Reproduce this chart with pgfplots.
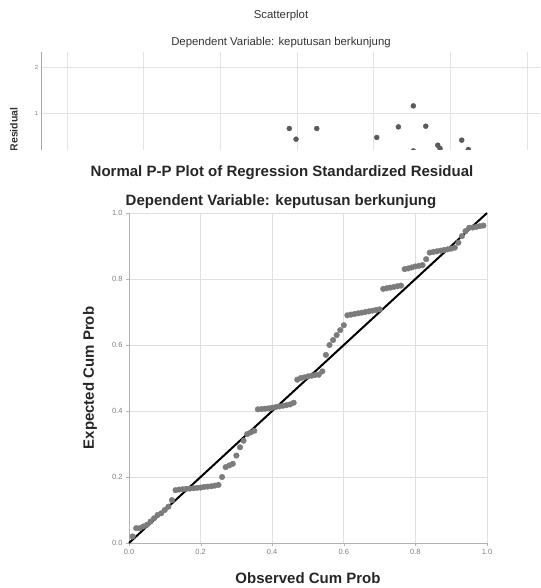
\documentclass[border=0pt]{standalone}
\usepackage{fontspec}
\setmainfont{Liberation Sans}
\usepackage{pgfplots}
\pgfplotsset{compat=1.18}
\definecolor{ptgray}{HTML}{7C7C7C}
\definecolor{dotgray}{HTML}{5A5A5A}
\begin{document}
\begin{tikzpicture}[x=1pt,y=1pt]
\useasboundingbox (0,0) rectangle (540,588);
% ---- cropped scatterplot on top ----
\begin{scope}
\clip (0,438) rectangle (540,588);
\begin{axis}[
  at={(41.7pt,405.8pt)}, anchor=south west, scale only axis,
  width=523.9pt, height=130.2pt,
  xmin=-3.33, xmax=3.5, ymin=-0.5, ymax=2.33,
  axis lines*=left,
  axis line style={gray!70, line width=0.8pt},
  xtick={-3,-2,-1,0,1,2,3}, xticklabels={},
  ytick={0,1,2},
  grid=major, grid style={gray!22, line width=0.9pt},
  major tick length=0pt,
  tick label style={font=\fontsize{6}{6}\selectfont, text=gray},
  /pgf/number format/assume math mode=true,
  clip=false,
]
\addplot[only marks, mark=*, mark size=2.5, dotgray] coordinates {
  (-0.102,0.667) (-0.014,0.435) (0.256,0.667) (1.038,0.472)
  (1.320,0.702) (1.515,1.159) (1.677,0.717) (1.515,0.180)
  (1.833,0.304) (1.863,0.233) (2.146,0.413) (2.232,0.211)
  (0.20,0.05) (1.10,0.10)
};
\end{axis}
\node[font=\bfseries\fontsize{10.5}{11}\selectfont, rotate=90, anchor=east, text=black!80]
  at (15,484) {Regression Standardized Residual};
\end{scope}
\node[font=\fontsize{11.4}{12}\selectfont, text=black!80] at (281,572.5) {Scatterplot};
\node[font=\fontsize{11.4}{12}\selectfont, text=black!80] at (281,545) {Dependent Variable: keputusan berkunjung};
% ---- normal P-P plot ----
\node[font=\bfseries\fontsize{15}{16}\selectfont, text=black!85] at (282,415) {Normal P-P Plot of Regression Standardized Residual};
\node[font=\bfseries\fontsize{15}{16}\selectfont, text=black!85] at (281,386) {Dependent Variable: keputusan berkunjung};
\begin{axis}[
  at={(129pt,45pt)}, anchor=south west, scale only axis,
  width=358pt, height=330pt,
  xmin=0, xmax=1, ymin=0, ymax=1,
  axis x line*=bottom, axis y line*=left,
  xtick={0,0.2,0.4,0.6,0.8,1}, ytick={0,0.2,0.4,0.6,0.8,1},
  grid=major, grid style={gray!25, line width=0.8pt},
  axis line style={gray!60, line width=0.8pt},
  tick style={gray!60}, tick align=outside, major tick length=3pt,
  tick label style={font=\fontsize{7.5}{8}\selectfont, text=gray},
  /pgf/number format/.cd, fixed, fixed zerofill, precision=1, assume math mode=true,
  /pgfplots/.cd,
  xlabel={Observed Cum Prob}, ylabel={Expected Cum Prob},
  label style={font=\bfseries\fontsize{15}{16}\selectfont, text=black!85},
  xlabel style={at={(axis description cs:0.5,-0.106)}, anchor=center},
  ylabel style={at={(axis description cs:-0.109,0.5)}, anchor=center},
  clip=false,
]
\addplot[only marks, mark=*, mark size=2.8, ptgray] coordinates {
  (0.01,0.02) (0.02,0.045) (0.03,0.045) (0.04,0.05) (0.05,0.055)
  (0.06,0.065) (0.07,0.075) (0.08,0.085) (0.09,0.09) (0.10,0.10)
  (0.11,0.11) (0.12,0.13) (0.13,0.16) (0.14,0.162) (0.15,0.163)
  (0.16,0.164) (0.17,0.165) (0.18,0.166) (0.19,0.167) (0.20,0.168)
  (0.21,0.170) (0.22,0.171) (0.23,0.172) (0.24,0.174) (0.25,0.176)
  (0.26,0.20) (0.27,0.23) (0.28,0.235) (0.29,0.24) (0.30,0.265)
  (0.31,0.29) (0.32,0.31) (0.33,0.33) (0.34,0.335) (0.35,0.34)
  (0.36,0.405) (0.37,0.406) (0.38,0.407) (0.39,0.408) (0.40,0.41)
  (0.41,0.412) (0.42,0.414) (0.43,0.416) (0.44,0.418) (0.45,0.42)
  (0.46,0.425) (0.47,0.495) (0.48,0.50) (0.49,0.502) (0.50,0.505)
  (0.51,0.507) (0.52,0.509) (0.53,0.51) (0.54,0.52) (0.55,0.57)
  (0.56,0.60) (0.57,0.615) (0.58,0.63) (0.59,0.645) (0.60,0.66)
  (0.61,0.69) (0.62,0.692) (0.63,0.694) (0.64,0.696) (0.65,0.698)
  (0.66,0.70) (0.67,0.702) (0.68,0.704) (0.69,0.706) (0.70,0.708)
  (0.71,0.77) (0.72,0.772) (0.73,0.774) (0.74,0.776) (0.75,0.778)
  (0.76,0.78) (0.77,0.83) (0.78,0.832) (0.79,0.835) (0.80,0.838)
  (0.81,0.84) (0.82,0.842) (0.83,0.86) (0.84,0.88) (0.85,0.882)
  (0.86,0.884) (0.87,0.886) (0.88,0.888) (0.89,0.89) (0.90,0.892)
  (0.91,0.895) (0.92,0.91) (0.93,0.93) (0.94,0.945) (0.95,0.955)
  (0.96,0.956) (0.97,0.958) (0.98,0.96) (0.99,0.962)
};
\addplot[black, line width=2pt] coordinates {(0,0) (1,1)};
\end{axis}
\end{tikzpicture}
\end{document}
